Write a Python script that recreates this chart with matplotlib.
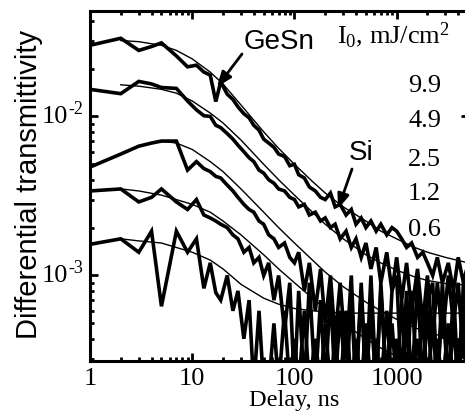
import matplotlib
matplotlib.use("Agg")
import matplotlib.pyplot as plt
from matplotlib.ticker import LogLocator, FixedLocator, NullFormatter

plt.rcParams['mathtext.fontset'] = 'custom'
plt.rcParams['mathtext.rm'] = 'Liberation Serif'
plt.rcParams['mathtext.it'] = 'Liberation Serif:italic'

# Delay grid (ns)
delay = [1, 2, 3, 4, 5, 7, 9, 11, 13, 15, 17, 19, 22, 25, 28, 32, 36, 40, 45, 50,
         56, 63, 70, 80, 90, 100, 110, 125, 140, 160, 180, 200, 225, 250, 280, 320,
         360, 400, 450, 500, 560, 630, 700, 800, 900, 1000, 1120, 1250, 1400, 1600,
         1800, 2000, 2250, 2500, 2800, 3200, 3600, 4000, 4500, 5000]

# Measured differential transmittivity for each pump fluence
dt_9_9 = [0.028, 0.031, 0.026, 0.0275, 0.029, 0.024, 0.0205, 0.021, 0.019, 0.0182,
          0.0124, 0.0165, 0.0138, 0.0128, 0.0115, 0.0104, 0.0098, 0.0088, 0.0082, 0.0072,
          0.0068, 0.0064, 0.0058, 0.0056, 0.0049, 0.0050, 0.0043, 0.0041, 0.0036, 0.0034,
          0.0031, 0.0030, 0.0033, 0.0027, 0.0028, 0.0024, 0.0026, 0.0021, 0.0023, 0.0020,
          0.0022, 0.0019, 0.0021, 0.0018, 0.0020, 0.0019, 0.0017, 0.0015, 0.0016, 0.0013,
          0.0014, 0.0012, 0.0010, 0.0013, 0.0009, 0.0012, 0.0008, 0.0013, 0.0009, 0.0012]
dt_4_9 = [0.0148, 0.0139, 0.0166, 0.016, 0.0152, 0.0150, 0.0125, 0.0110, 0.0101, 0.0100,
          0.0088, 0.0085, 0.0078, 0.0072, 0.0066, 0.0060, 0.0055, 0.0052, 0.0046, 0.0044,
          0.0040, 0.0038, 0.0035, 0.0034, 0.0031, 0.0030, 0.0027, 0.0028, 0.0024, 0.0025,
          0.0022, 0.0023, 0.0020, 0.0021, 0.0017, 0.0019, 0.0015, 0.0017, 0.0013, 0.0016,
          0.0011, 0.0015, 0.0009, 0.0014, 0.0008, 0.0013, 0.0007, 0.0012, 0.0006, 0.0011,
          0.0005, 0.0010, 0.0004, 0.0009, 0.0004, 0.0010, 0.0005, 0.0009, 0.0003, 0.0008]
dt_2_5 = [0.0048, 0.0058, 0.0065, 0.0068, 0.0070, 0.0070, 0.0046, 0.0052, 0.0047, 0.0045,
          0.0042, 0.0041, 0.0037, 0.0034, 0.0031, 0.0028, 0.0026, 0.0025, 0.0022, 0.0021,
          0.0018, 0.0017, 0.0015, 0.0016, 0.0013, 0.0012, 0.0014, 0.0008, 0.0012, 0.0006,
          0.0011, 0.0005, 0.0010, 0.0004, 0.0009, 0.0003, 0.0010, 0.0002, 0.0009, 0.0002,
          0.0010, 0.0002, 0.0009, 0.0002, 0.0008, 0.0010, 0.0002, 0.0008, 0.0002, 0.0009,
          0.0002, 0.0007, 0.0009, 0.0002, 0.0009, 0.0002, 0.0008, 0.0002, 0.0009, 0.0004]
dt_1_2 = [0.0034, 0.0035, 0.0029, 0.0031, 0.0035, 0.0029, 0.0026, 0.0030, 0.0024, 0.0023,
          0.0022, 0.0021, 0.0020, 0.0018, 0.0017, 0.0014, 0.0015, 0.0012, 0.0013, 0.0010,
          0.0012, 0.0007, 0.0010, 0.00045, 0.0009, 0.0002, 0.0008, 0.0002, 0.0009, 0.0002,
          0.0007, 0.0002, 0.0008, 0.0002, 0.0006, 0.0002, 0.0007, 0.0002, 0.0008, 0.0002,
          0.0006, 0.0002, 0.0008, 0.0002, 0.0005, 0.0002, 0.0007, 0.0002, 0.0008, 0.0002,
          0.0006, 0.0002, 0.0005, 0.0002, 0.0007, 0.0002, 0.0005, 0.0002, 0.0007, 0.0002]
dt_0_6 = [0.00157, 0.0017, 0.0014, 0.0019, 0.00064, 0.0019, 0.0014, 0.0017, 0.00083, 0.0012,
          0.00078, 0.0007, 0.0010, 0.0006, 0.0008, 0.0004, 0.0007, 0.0002, 0.0006, 0.0002,
          0.0002, 0.0005, 0.0002, 0.0006, 0.0002, 0.0004, 0.0002, 0.0006, 0.0002, 0.0004,
          0.0002, 0.0005, 0.0002, 0.0004, 0.0002, 0.0006, 0.0002, 0.0004, 0.0002, 0.0005,
          0.0002, 0.0004, 0.0002, 0.0006, 0.0002, 0.0004, 0.0002, 0.0005, 0.0002, 0.0004,
          0.0002, 0.0006, 0.0002, 0.0004, 0.0002, 0.0005, 0.0002, 0.0004, 0.0002, 0.0006]

# Model fits
fit_delay = [2, 3, 5, 7, 10, 15, 20, 30, 50, 70, 100, 150, 200, 300, 500, 700,
             1000, 1500, 2000, 3000, 5000]
fit_9_9 = [0.030, 0.0295, 0.028, 0.026, 0.023, 0.019, 0.016, 0.0118, 0.0080, 0.0063,
           0.0050, 0.0039, 0.0033, 0.0027, 0.0022, 0.0019, 0.0017, 0.0015, 0.0014,
           0.0013, 0.0012]
fit_4_9 = [0.0158, 0.0155, 0.0148, 0.0140, 0.0125, 0.0105, 0.0091, 0.0071, 0.0050,
           0.0040, 0.0032, 0.0025, 0.0021, 0.0017, 0.00135, 0.0012, 0.00108, 0.00098,
           0.00093, 0.00089, 0.00087]
fit_2_5 = [0.0058, 0.0065, 0.0070, 0.0068, 0.0062, 0.0052, 0.0045, 0.0035, 0.0025,
           0.0020, 0.0016, 0.00125, 0.00105, 0.00085, 0.00068, 0.00060, 0.00053,
           0.00047, 0.00044, 0.00041, 0.00039]
fit_1_2 = [0.0035, 0.0034, 0.0032, 0.0030, 0.0028, 0.0025, 0.0022, 0.0018, 0.00135,
           0.0011, 0.0009, 0.00072, 0.00062, 0.0005, 0.00040, 0.00035, 0.00031, 0.00027]
fit_0_6 = [0.0017, 0.00165, 0.0016, 0.0015, 0.0014, 0.00125, 0.0011, 0.00088, 0.00072,
           0.00066, 0.00062, 0.0006, 0.00059, 0.00058, 0.00058, 0.00058, 0.00058,
           0.00058, 0.00058, 0.00058, 0.00058]

fluences = ['9.9', '4.9', '2.5', '1.2', '0.6']
series = [dt_9_9, dt_4_9, dt_2_5, dt_1_2, dt_0_6]
fits = [fit_9_9, fit_4_9, fit_2_5, fit_1_2, fit_0_6]

x_ticks = [1, 10, 100, 1000]
x_tick_labels = ['1', '10', '100', '1000']
y_ticks = [1e-3, 1e-2]
y_tick_exps = ['-3', '-2']

W, H = 465, 414
fig = plt.figure(figsize=(W / 100, H / 100), dpi=100)
ax = fig.add_axes([90 / W, (H - 362) / H, (469 - 90) / W, (362 - 12) / H])

for ys in series:
    ax.plot(delay, ys, color='black', lw=2.6, solid_joinstyle='miter')
for fy in fits:
    ax.plot(fit_delay[:len(fy)], fy, color='black', lw=1.0)

ax.set_xscale('log')
ax.set_yscale('log')
ax.set_xlim(1, 5100)
ax.set_ylim(2.9e-4, 0.046)

ax.xaxis.set_major_locator(FixedLocator(x_ticks))
ax.set_xticklabels(x_tick_labels)
ax.xaxis.set_minor_locator(LogLocator(base=10, subs=range(2, 10)))
ax.xaxis.set_minor_formatter(NullFormatter())
ax.yaxis.set_major_locator(FixedLocator(y_ticks))
ax.yaxis.set_major_formatter(NullFormatter())
ax.yaxis.set_minor_locator(LogLocator(base=10, subs=range(2, 10)))
ax.yaxis.set_minor_formatter(NullFormatter())

ax.tick_params(which='both', direction='in', top=True, right=True, width=2.0,
               labelsize=19, labelfontfamily='Liberation Serif')
ax.tick_params(which='major', length=5.5)
ax.tick_params(which='minor', length=3)
ax.tick_params(axis='x', pad=4)
for sp in ax.spines.values():
    sp.set_linewidth(2.2)

# y tick labels: base "10" with a small raised exponent
ytr = ax.get_yaxis_transform()
for v, e in zip(y_ticks, y_tick_exps):
    ax.annotate('10', xy=(0, v), xycoords=ytr, xytext=(-22, 0),
                textcoords='offset pixels', ha='right', va='center',
                fontsize=19, family='Liberation Serif')
    ax.annotate(e, xy=(0, v), xycoords=ytr, xytext=(-22, 8),
                textcoords='offset pixels', ha='left', va='center',
                fontsize=13, family='Liberation Serif')

fig.text(294 / W, 1 - 401 / H, 'Delay, ns', ha='center', va='center',
         fontsize=17.5, family='Liberation Serif')
fig.text(29 / W, 1 - 184 / H, 'Differential transmittivity', rotation=90,
         ha='center', va='center', fontsize=21, family='Liberation Sans')

# Fluence annotations
fig.text(337 / W, 1 - 43 / H, r'I$_0$, mJ/cm$^2$', ha='left', va='baseline',
         fontsize=19, family='Liberation Serif')
for lab, yc in zip(fluences, [86, 121, 160, 194, 230]):
    fig.text(441 / W, 1 - yc / H, lab, ha='right', va='center',
             fontsize=19, family='Liberation Serif')

fig.text(279 / W, 1 - 42 / H, 'GeSn', ha='center', va='center',
         fontsize=20, family='Liberation Sans')
fig.text(361 / W, 1 - 153 / H, 'Si', ha='center', va='center',
         fontsize=20, family='Liberation Sans')

arrow_kw = dict(arrowstyle='-|>,head_length=0.9,head_width=0.35', color='black',
                lw=2.0, shrinkA=0, shrinkB=0)
ax.annotate('', xy=(217, H - 88), xytext=(242, H - 55), xycoords='figure pixels',
            textcoords='figure pixels', arrowprops=arrow_kw)
ax.annotate('', xy=(338, H - 210), xytext=(352, H - 170), xycoords='figure pixels',
            textcoords='figure pixels', arrowprops=arrow_kw)

fig.savefig('out.png', dpi=100)
